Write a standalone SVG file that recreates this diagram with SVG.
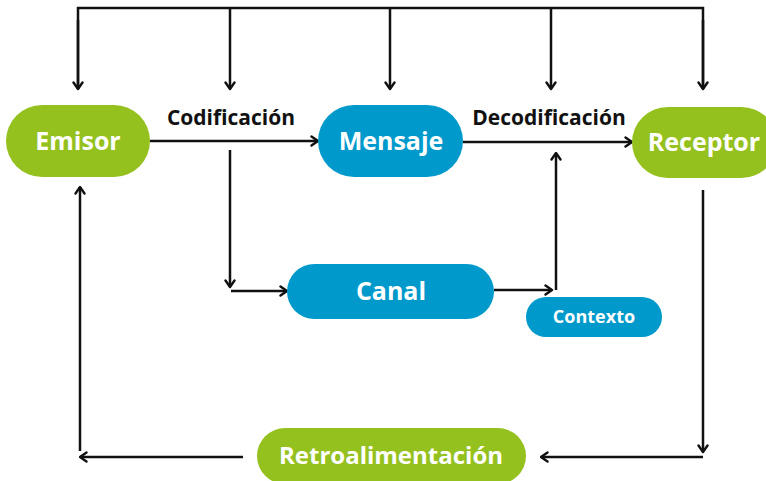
<svg xmlns="http://www.w3.org/2000/svg" width="766" height="481" viewBox="0 0 766 481">
  <style>
    .green { fill: #95c11f; }
    .blue { fill: #0099cc; }
    .label { font-family: "Open Sans", Lato, sans-serif; font-weight: 700; fill: #ffffff; text-anchor: middle; dominant-baseline: central; }
    .cap { font-family: "Open Sans", Lato, sans-serif; font-weight: 700; fill: #111111; font-size: 21px; }
    .wire { fill: none; stroke: #111111; stroke-width: 2.5; }
    .arrow { fill: none; stroke: #111111; stroke-width: 2.5; marker-end: url(#head); }
  </style>
  <defs>
    <marker id="head" viewBox="0 0 12 12" refX="10.5" refY="6" markerWidth="12" markerHeight="12" markerUnits="userSpaceOnUse" orient="auto">
      <path d="M4,1.5 L10.5,6 L4,10.5" fill="none" stroke="#111111" stroke-width="2.4" stroke-linecap="round" stroke-linejoin="round"/>
    </marker>
  </defs>
  <rect width="766" height="481" fill="#ffffff"/>

  <g id="connectors">
    <!-- top bus feeding every stage -->
    <path class="wire" d="M78,89 V8 H703 V89"/>
    <path class="arrow" d="M78,20 V89"/>
    <path class="arrow" d="M230,8 V89"/>
    <path class="arrow" d="M390,8 V89"/>
    <path class="arrow" d="M551,8 V89"/>
    <path class="arrow" d="M703,20 V89"/>
    <!-- main line -->
    <path class="arrow" d="M150,141 H318"/>
    <path class="arrow" d="M463,142 H632"/>
    <!-- channel branch -->
    <path class="arrow" d="M230,150 V287"/>
    <path class="arrow" d="M231,291 H287"/>
    <path class="arrow" d="M494,290 H552"/>
    <path class="arrow" d="M556,290 V153"/>
    <!-- feedback loop -->
    <path class="arrow" d="M703,190 V452"/>
    <path class="arrow" d="M703,457 H541"/>
    <path class="arrow" d="M243,457 H80"/>
    <path class="arrow" d="M80,451 V187"/>
  </g>

  <g id="codificacion">
    <text class="cap" x="231" y="125" text-anchor="middle">Codificación</text>
  </g>
  <g id="decodificacion">
    <text class="cap" x="549" y="125" text-anchor="middle">Decodificación</text>
  </g>

  <g id="emisor">
    <rect class="green" x="6" y="105" width="144" height="72" rx="36"/>
    <text class="label" x="78" y="140" font-size="25">Emisor</text>
  </g>
  <g id="mensaje">
    <rect class="blue" x="318" y="105" width="145" height="72" rx="36"/>
    <text class="label" x="391" y="140" font-size="25">Mensaje</text>
  </g>
  <g id="receptor">
    <rect class="green" x="632" y="107" width="145" height="71" rx="35.5"/>
    <text class="label" x="704" y="141" font-size="25">Receptor</text>
  </g>
  <g id="canal">
    <rect class="blue" x="287" y="264" width="207" height="55" rx="27.5"/>
    <text class="label" x="391" y="290" font-size="25">Canal</text>
  </g>
  <g id="contexto">
    <rect class="blue" x="526" y="297" width="136" height="40" rx="20"/>
    <text class="label" x="594" y="316" font-size="18">Contexto</text>
  </g>
  <g id="retroalimentacion">
    <rect class="green" x="257" y="428" width="269" height="56" rx="28"/>
    <text class="label" x="391" y="454" font-size="24">Retroalimentación</text>
  </g>
</svg>
